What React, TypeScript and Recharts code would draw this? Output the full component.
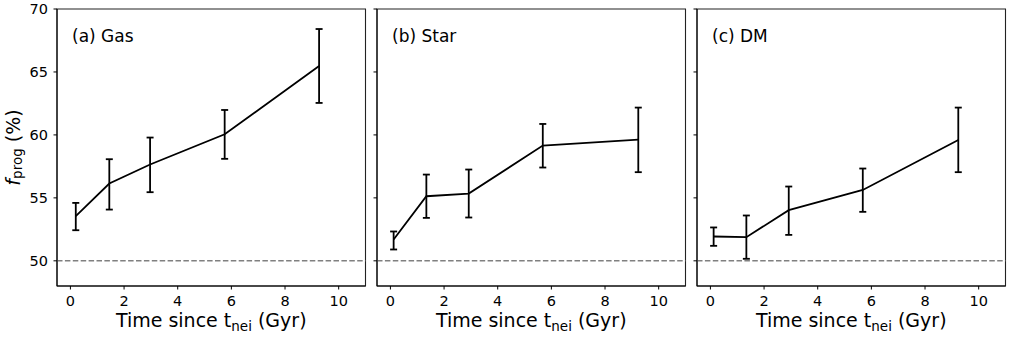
import React from "react";
import { LineChart, Line, XAxis, YAxis, ErrorBar, ReferenceLine, ReferenceArea } from "recharts";

const FONT = "DejaVu Sans";

// time since t_nei (Gyr), read per panel
const timeGas = [0.2, 1.45, 2.97, 5.75, 9.27];
const timeStar = [0.12, 1.34, 2.92, 5.68, 9.24];
const timeDM = [0.12, 1.34, 2.92, 5.68, 9.24];

// f_prog (%) with lower / upper ends of the error bars
const gasValues = [53.55, 56.14, 57.65, 60.05, 65.48];
const gasLower = [52.43, 54.07, 55.45, 58.1, 62.54];
const gasUpper = [54.6, 58.07, 59.79, 61.98, 68.41];

const starValues = [51.69, 55.13, 55.34, 59.15, 59.63];
const starLower = [50.9, 53.41, 53.44, 57.41, 57.04];
const starUpper = [52.33, 56.85, 57.25, 60.87, 62.17];

const dmValues = [51.93, 51.88, 54.02, 55.63, 59.6];
const dmLower = [51.19, 50.16, 52.06, 53.89, 57.04];
const dmUpper = [52.65, 53.6, 55.9, 57.33, 62.17];

const xTicks = [0, 2, 4, 6, 8, 10];
const yTicks = [50, 55, 60, 65, 70];
const panelTitles = ["(a) Gas", "(b) Star", "(c) DM"];

const X_DOMAIN: [number, number] = [-0.5, 11];
const Y_DOMAIN: [number, number] = [48, 70];

const buildRows = (time: number[], values: number[], lower: number[], upper: number[]) =>
  time.map((t, i) => ({
    time: t,
    value: values[i],
    err: [values[i] - lower[i], upper[i] - values[i]],
  }));

const panels = [
  { title: panelTitles[0], rows: buildRows(timeGas, gasValues, gasLower, gasUpper), left: 0.3 },
  { title: panelTitles[1], rows: buildRows(timeStar, starValues, starLower, starUpper), left: 320.3 },
  { title: panelTitles[2], rows: buildRows(timeDM, dmValues, dmLower, dmUpper), left: 640.3 },
];

const tickStyle = { fill: "#000", fontSize: 14.5, fontFamily: FONT };

const XTitle = (props: any) => {
  const vb = props.viewBox || { x: 57, y: 286, width: 308.5 };
  return (
    <text x={vb.x + vb.width / 2} y={vb.y + 41} textAnchor="middle" fontFamily={FONT} fontSize={19} fill="#000">
      Time since t
      <tspan dy={4} fontSize={13.5}>nei</tspan>
      <tspan dy={-4}> (Gyr)</tspan>
    </text>
  );
};

const YTitle = (props: any) => {
  const vb = props.viewBox || { x: 0, y: 9, width: 57, height: 277 };
  const cx = 13;
  const cy = vb.y + vb.height / 2;
  return (
    <text
      x={cx}
      y={cy}
      transform={`rotate(-90 ${cx} ${cy})`}
      textAnchor="middle"
      dominantBaseline="central"
      fontFamily={FONT}
      fontSize={19}
      fill="#000"
    >
      <tspan fontStyle="italic">f</tspan>
      <tspan dy={4} fontSize={13.5}>prog</tspan>
      <tspan dy={-4}> (%)</tspan>
    </text>
  );
};

const Panel = ({ title, rows, left, first }: { title: string; rows: any[]; left: number; first: boolean }) => {
  const PanelTitle = (props: any) => {
    const vb = props.viewBox || { x: 57, y: 9 };
    return (
      <text x={vb.x + 15} y={vb.y + 33} fontFamily={FONT} fontSize={17} fill="#000">
        {title}
      </text>
    );
  };

  return (
    <div style={{ position: "absolute", left, top: 0 }}>
      <LineChart width={369.5} height={337} data={rows} margin={{ top: 9, right: 4, bottom: 0, left: 0 }}>
        <XAxis
          dataKey="time"
          type="number"
          domain={X_DOMAIN}
          ticks={xTicks}
          allowDataOverflow
          height={51}
          tickSize={3.5}
          tickMargin={6}
          tick={tickStyle}
          tickLine={{ stroke: "#000" }}
          axisLine={{ stroke: "#000" }}
          label={XTitle}
        />
        <YAxis
          type="number"
          domain={Y_DOMAIN}
          ticks={yTicks}
          allowDataOverflow
          width={57}
          tickSize={3.5}
          tickMargin={5.5}
          tick={tickStyle}
          tickFormatter={first ? undefined : () => ""}
          tickLine={{ stroke: "#000" }}
          axisLine={{ stroke: "#000" }}
          label={first ? YTitle : undefined}
        />
        {/* box frame around the axes, carrying the panel title */}
        <ReferenceArea
          x1={X_DOMAIN[0]}
          x2={X_DOMAIN[1]}
          y1={Y_DOMAIN[0]}
          y2={Y_DOMAIN[1]}
          fill="none"
          fillOpacity={0}
          stroke="#222"
          strokeWidth={1.1}
          label={PanelTitle}
        />
        <ReferenceLine y={50} stroke="#808080" strokeWidth={1.6} strokeDasharray="5.5 2.4" />
        <Line
          dataKey="value"
          stroke="#000"
          strokeWidth={1.8}
          dot={false}
          activeDot={false}
          isAnimationActive={false}
        >
          <ErrorBar dataKey="err" direction="y" width={3.5} stroke="#000" strokeWidth={1.8} isAnimationActive={false} />
        </Line>
      </LineChart>
    </div>
  );
}

export default function App() {
  return (
    <div style={{ position: "absolute", left: 0, top: 0, width: 1010, height: 337, background: "#fff" }}>
      {panels.map((p, i) => (
        <Panel key={p.title} title={p.title} rows={p.rows} left={p.left} first={i === 0} />
      ))}
    </div>
  );
}
